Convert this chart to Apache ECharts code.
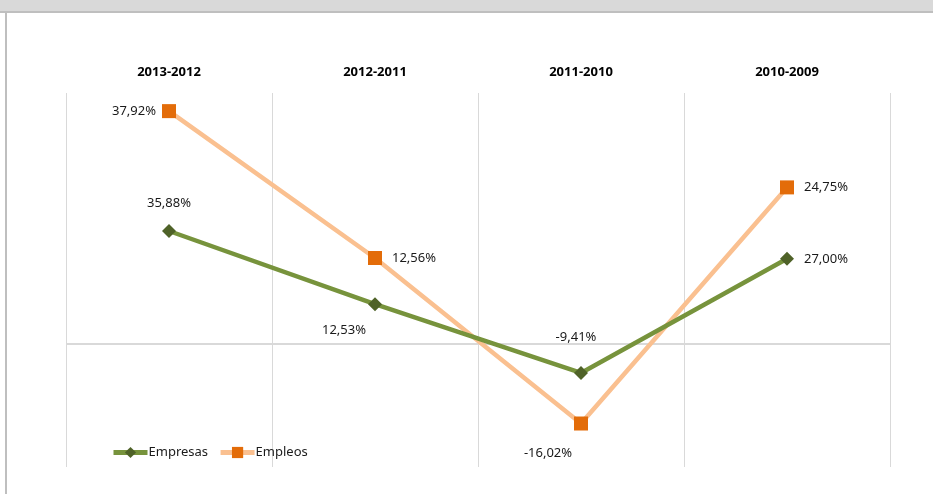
<!DOCTYPE html>
<html>
<head>
<meta charset="utf-8">
<script src="https://cdn.jsdelivr.net/npm/echarts@6/dist/echarts.min.js"></script>
<style>
  html, body { margin: 0; padding: 0; background: #fff; }
  #chart { width: 933px; height: 494px; }
</style>
</head>
<body>
<div id="chart"></div>
<script>
const categories = ['2013-2012', '2012-2011', '2011-2010', '2010-2009']
const empresas = [35.88, 12.53, -9.41, 27.0]
const empleos = [37.92, 12.56, -16.02, 24.75]

const fmt = (v) => v.toFixed(2).replace('.', ',') + '%'
const labelFont = { fontFamily: 'Noto Sans', fontSize: 13, color: '#1a1a1a' }

// posiciones de etiqueta, como en la hoja original
const empresasLabels = [
  { position: 'top', distance: 14 },
  { position: 'bottom', distance: 13, offset: [-31, 0] },
  { position: 'top', distance: 22, offset: [-5, 0] },
  { position: 'right', distance: 10 }
]
const empleosLabels = [
  { position: 'left', distance: 6 },
  { position: 'right', distance: 10 },
  { position: 'bottom', distance: 16, offset: [-33, 0] },
  { position: 'right', distance: 10 }
]

const chart = echarts.init(document.getElementById('chart'), null, { renderer: 'canvas' })

const option = {
  animation: false,
  backgroundColor: '#fff',
  graphic: [
    { type: 'rect', shape: { x: 0, y: 0, width: 933, height: 11 }, style: { fill: '#d9d9d9' } },
    { type: 'rect', shape: { x: 0, y: 11, width: 933, height: 2 }, style: { fill: '#bfbfbf' } },
    { type: 'rect', shape: { x: 5, y: 11, width: 2, height: 483 }, style: { fill: '#bfbfbf' } }
  ],
  grid: { left: 66, right: 43, top: 93, bottom: 27 },
  legend: {
    left: 106,
    top: 441,
    itemWidth: 34,
    itemHeight: 14,
    itemGap: 10,
    lineStyle: { width: 5 },
    textStyle: { fontFamily: 'Noto Sans', fontSize: 13, color: '#1a1a1a', padding: [0, 0, 0, -4] },
    data: ['Empresas', 'Empleos']
  },
  xAxis: {
    type: 'category',
    position: 'top',
    data: categories,
    boundaryGap: true,
    axisLine: { show: false },
    axisTick: { show: false },
    axisLabel: {
      margin: 14,
      fontFamily: 'Noto Sans',
      fontWeight: 'bold',
      fontSize: 13,
      color: '#000'
    },
    splitLine: { show: true, lineStyle: { color: '#d9d9d9', width: 1 } }
  },
  yAxis: [
    { type: 'value', min: -23.53, max: 41.05, show: false, splitLine: { show: false } },
    { type: 'value', min: -39.4, max: 79.9, show: false, splitLine: { show: false } }
  ],
  series: [
    {
      name: 'Empresas',
      type: 'line',
      yAxisIndex: 1,
      z: 3,
      data: empresas.map((v, i) => ({ value: v, label: empresasLabels[i] })),
      symbol: 'diamond',
      symbolSize: 14,
      itemStyle: { color: '#4f6228' },
      lineStyle: { color: '#77933c', width: 4.5 },
      label: { show: true, ...labelFont, formatter: (p) => fmt(p.value) },
      markLine: {
        silent: true,
        symbol: 'none',
        label: { show: false },
        lineStyle: { color: '#d9d9d9', width: 2, type: 'solid' },
        data: [{ yAxis: 0 }],
        z: 1
      }
    },
    {
      name: 'Empleos',
      type: 'line',
      yAxisIndex: 0,
      z: 2,
      data: empleos.map((v, i) => ({ value: v, label: empleosLabels[i] })),
      symbol: 'rect',
      symbolSize: 14,
      itemStyle: { color: '#e36c09' },
      lineStyle: { color: '#fac090', width: 4.5 },
      label: { show: true, ...labelFont, formatter: (p) => fmt(p.value) }
    }
  ]
}

chart.setOption(option)
</script>
</body>
</html>
